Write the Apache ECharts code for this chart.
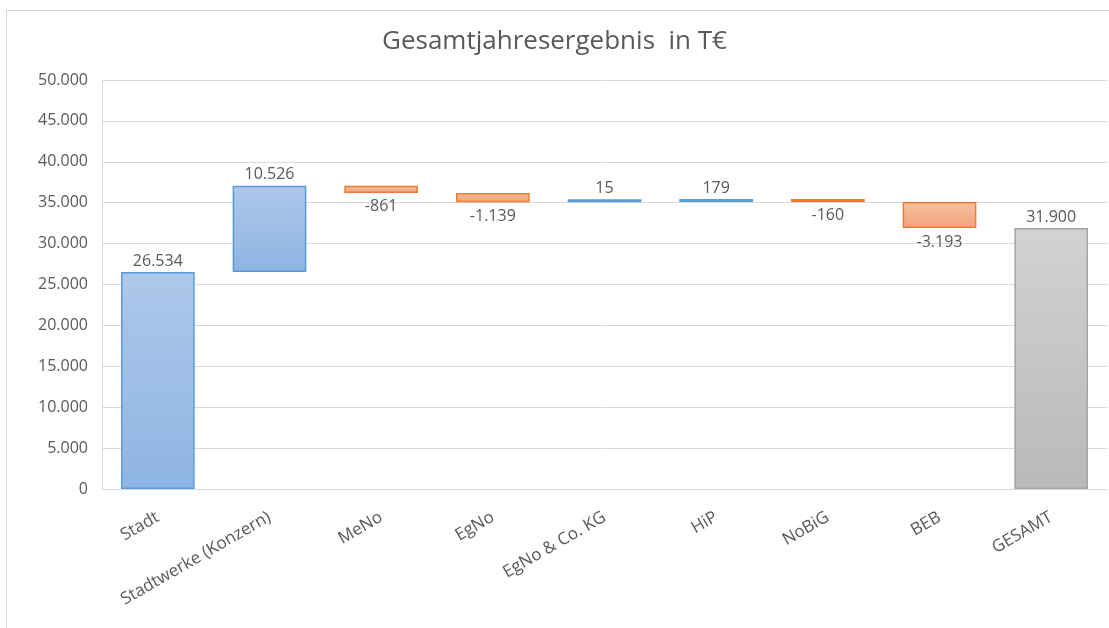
<!DOCTYPE html>
<html>
<head>
<meta charset="utf-8">
<script src="https://cdn.jsdelivr.net/npm/echarts@6/dist/echarts.min.js"></script>
<style>
  html, body { margin: 0; padding: 0; background: #fff; }
  #chart { width: 1109px; height: 628px; }
  #frame {
    position: absolute; left: 6px; top: 10px; width: 1200px; height: 700px;
    border-left: 1px solid #d9d9d9; border-top: 1px solid #d9d9d9;
    pointer-events: none;
  }
</style>
</head>
<body>
<div id="chart"></div>
<div id="frame"></div>
<script>
const categories = ['Stadt', 'Stadtwerke (Konzern)', 'MeNo', 'EgNo', 'EgNo & Co. KG', 'HiP', 'NoBiG', 'BEB', 'GESAMT'];
// changes per company, first is the starting value
const deltas = [26534, 10526, -861, -1139, 15, 179, -160, -3193];
const total = 31900;
const yTicks = { min: 0, max: 50000, interval: 5000 };

const fmt = (v) => {
  const s = String(Math.abs(v)).replace(/\B(?=(\d{3})+(?!\d))/g, '.');
  return (v < 0 ? '-' : '') + s;
};

const blueFill = new echarts.graphic.LinearGradient(0, 0, 0, 1, [
  { offset: 0, color: '#adc8ea' },
  { offset: 1, color: '#8eb4e3' },
]);
const orangeFill = new echarts.graphic.LinearGradient(0, 0, 0, 1, [
  { offset: 0, color: '#f6c0a0' },
  { offset: 1, color: '#f3a47c' },
]);
const grayFill = new echarts.graphic.LinearGradient(0, 0, 0, 1, [
  { offset: 0, color: '#d2d2d2' },
  { offset: 1, color: '#b9b9b9' },
]);

const base = [];
const visible = [];
let running = 0;
deltas.forEach((d) => {
  const next = running + d;
  base.push(Math.min(running, next));
  visible.push({
    value: Math.abs(d),
    delta: d,
    itemStyle: d >= 0
      ? { color: blueFill, borderColor: '#5b9bd5' }
      : { color: orangeFill, borderColor: '#ed7d31' },
    label: d >= 0 ? { position: 'top' } : { position: 'bottom', distance: 6 },
  });
  running = next;
});
base.push(0);
visible.push({
  value: total,
  delta: total,
  itemStyle: { color: grayFill, borderColor: '#a5a5a5' },
  label: { position: 'top' },
});

const chart = echarts.init(document.getElementById('chart'));
chart.setOption({
  animation: false,
  title: {
    text: 'Gesamtjahresergebnis  in T€',
    left: 'center',
    top: 24,
    textStyle: { fontFamily: 'Open Sans', fontSize: 26, fontWeight: 'normal', color: '#595959' },
  },
  grid: { left: 102, right: 2, top: 80, bottom: 139 },
  xAxis: {
    type: 'category',
    data: categories,
    axisLine: { lineStyle: { color: '#d9d9d9' } },
    axisTick: { show: false },
    axisLabel: {
      rotate: 30,
      interval: 0,
      margin: 27,
      fontFamily: 'Open Sans',
      fontSize: 17,
      color: '#595959',
    },
  },
  yAxis: {
    type: 'value',
    min: yTicks.min,
    max: yTicks.max,
    interval: yTicks.interval,
    axisLine: { show: true, lineStyle: { color: '#d9d9d9' } },
    splitLine: { lineStyle: { color: '#d9d9d9' } },
    axisLabel: {
      formatter: fmt,
      margin: 14,
      fontFamily: 'Open Sans',
      fontSize: 16,
      color: '#595959',
    },
  },
  series: [
    {
      type: 'bar',
      stack: 'wf',
      data: base,
      barWidth: '66%',
      itemStyle: { color: 'transparent' },
      emphasis: { disabled: true },
      silent: true,
    },
    {
      type: 'bar',
      stack: 'wf',
      data: visible,
      barWidth: '66%',
      barMinHeight: 3,
      itemStyle: { borderWidth: 1.5 },
      label: {
        show: true,
        distance: 3,
        formatter: (p) => fmt(p.data.delta),
        fontFamily: 'Open Sans',
        fontSize: 16,
        color: '#595959',
      },
    },
  ],
});
</script>
</body>
</html>
